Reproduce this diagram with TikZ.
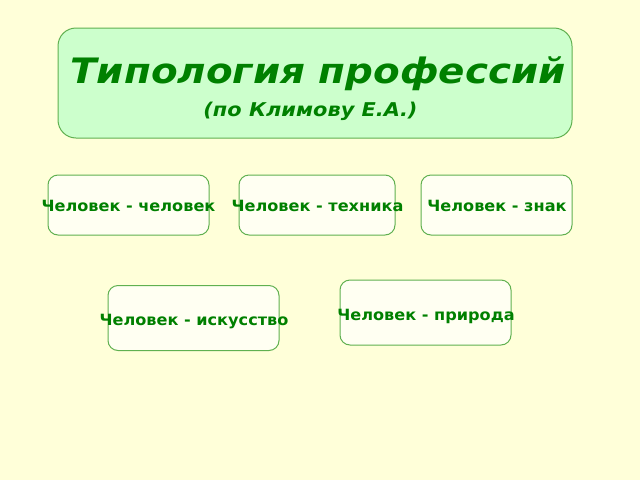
\documentclass[tikz,border=0pt]{standalone}
\usepackage{fontspec}
\setmainfont{DejaVu Sans}
\usetikzlibrary{positioning}

\definecolor{fundo}{RGB}{255,255,217}
\definecolor{verdeclaro}{RGB}{204,255,204}
\definecolor{caixa}{RGB}{255,255,242}
\definecolor{borda}{RGB}{96,176,80}
\definecolor{texto}{RGB}{0,128,0}

\begin{document}
\begin{tikzpicture}[x=1pt, y=-1pt,
    caixa/.style={draw=borda, line width=1pt, fill=caixa, rounded corners=10pt, inner sep=0pt},
    rotulo/.style={text=texto, font=\fontsize{15.5}{18}\selectfont\bfseries, xscale=1.04, inner sep=0pt, anchor=base}]

  % Fundo
  \fill[fundo] (0,0) rectangle (640,480);
  \useasboundingbox (0,0) rectangle (640,480);

  % Titulo
  \node[draw=borda, line width=1pt, fill=verdeclaro, rounded corners=18pt,
        minimum width=514pt, minimum height=110pt, inner sep=0pt] (titulo) at (315,83) {};
  \node[text=texto, font=\fontsize{35}{40}\selectfont\bfseries\itshape, xscale=1.11,
        inner sep=0pt, anchor=base] (tit1) at (318,83) {Типология профессий};
  \node[text=texto, font=\fontsize{19}{22}\selectfont\bfseries\itshape, xscale=1.1,
        inner sep=0pt, anchor=base] (tit2) at (310.5,116.5) {(по Климову Е.А.)};

  % Caixas de cima
  \node[caixa, minimum width=161pt, minimum height=60pt] (cc) at (128.5,205) {};
  \node[caixa, minimum width=156pt, minimum height=60pt] (ct) at (317,205) {};
  \node[caixa, minimum width=151pt, minimum height=60pt] (cz) at (496.5,205) {};

  % Caixas de baixo
  \node[caixa, minimum width=171pt, minimum height=65pt] (cp) at (425.5,312.5) {};
  \node[caixa, minimum width=171pt, minimum height=65pt] (ci) at (193.5,318) {};

  % Rotulos
  \node[rotulo] (tc) at (128.5,211.5) {Человек - человек};
  \node[rotulo] (tt) at (317.5,211.5) {Человек - техника};
  \node[rotulo] (tz) at (497,211.5) {Человек - знак};
  \node[rotulo] (tp) at (426,320) {Человек - природа};
  \node[rotulo] (ti) at (194,325) {Человек - искусство};

\end{tikzpicture}
\end{document}
